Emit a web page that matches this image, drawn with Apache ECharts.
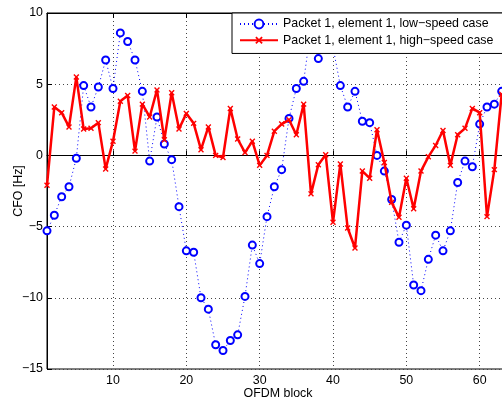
<!DOCTYPE html>
<html>
<head>
<meta charset="utf-8">
<script src="https://cdn.jsdelivr.net/npm/echarts@6/dist/echarts.min.js"></script>
<style>
html,body{margin:0;padding:0;background:#fff;}
#chart{width:502px;height:399px;}
</style>
</head>
<body>
<div id="chart"></div>
<script>
var blocks = [1,2,3,4,5,6,7,8,9,10,11,12,13,14,15,16,17,18,19,20,21,22,23,24,25,26,27,28,29,30,31,32,33,34,35,36,37,38,39,40,41,42,43,44,45,46,47,48,49,50,51,52,53,54,55,56,57,58,59,60,61,62,63];
var lowSpeed = [-5.3,-4.2,-2.9,-2.2,-0.2,4.9,3.4,4.8,6.7,4.7,8.6,8.0,6.7,4.5,-0.4,2.7,0.8,-0.3,-3.6,-6.7,-6.8,-10.0,-10.8,-13.3,-13.7,-13.0,-12.6,-9.9,-6.3,-7.6,-4.3,-2.2,-1.0,2.6,4.7,5.2,9.0,6.8,8.5,7.6,4.9,3.4,4.5,2.4,2.3,0.0,-1.1,-3.1,-6.1,-4.9,-9.1,-9.5,-7.3,-5.6,-6.7,-5.3,-1.9,-0.4,-0.8,2.2,3.4,3.6,4.5];
var highSpeed = [-2.1,3.4,3.0,2.0,5.5,1.85,1.9,2.3,-0.95,1.0,3.8,4.2,0.3,3.6,2.7,4.6,1.1,4.4,1.85,2.95,2.25,0.4,2.0,0.0,-0.15,3.3,1.15,0.2,1.0,-0.7,0.0,1.7,2.2,2.5,1.45,3.6,-2.7,-0.65,0.05,-4.7,-0.6,-5.1,-6.5,-1.1,-1.6,1.8,-0.5,-3.3,-4.35,-1.6,-3.75,-1.1,-0.1,0.7,1.75,-0.7,1.45,1.9,3.3,3.0,-4.3,-1.0,4.3];
var xTicks = [10,20,30,40,50,60];
var yTicks = [-15,-10,-5,0,5,10];
var seriesNames = ['Packet 1, element 1, low\u2212speed case','Packet 1, element 1, high\u2212speed case'];

var FONT = '"Liberation Sans", Arial, Helvetica, sans-serif';
function pairs(ys){ return blocks.map(function(x,i){ return [x, ys[i]]; }); }
function fmt(v){ return v < 0 ? '\u2212' + Math.abs(v) : String(v); }
var xMark = 'path://M4,0L6,0L6,4L10,4L10,6L6,6L6,10L4,10L4,6L0,6L0,4L4,4Z';

var chart = echarts.init(document.getElementById('chart'), null, {renderer:'canvas'});
chart.setOption({
  animation: false,
  backgroundColor: '#fff',
  grid: {left: 47, top: 13, right: -7, bottom: 30, containLabel: false, outerBoundsMode: 'none',
         show: true, borderColor: '#000', borderWidth: 1, backgroundColor: 'transparent'},
  legend: {
    data: seriesNames,
    orient: 'vertical',
    left: 232, top: 13,
    itemWidth: 38, itemHeight: 11, itemGap: 4,
    padding: [5, 30, 7, 7],
    borderColor: '#000', borderWidth: 1, backgroundColor: '#fff',
    textStyle: {fontFamily: FONT, fontSize: 12.4, color: '#000'},
    z: 10
  },
  xAxis: [{
    type: 'value', min: 1, max: 64, position: 'bottom',
    name: 'OFDM block', nameLocation: 'middle', nameGap: 19, nameMoveOverlap: false,
    nameTextStyle: {fontFamily: FONT, fontSize: 12.4, color: '#000'},
    axisLine: {show: true, lineStyle: {color: '#000', width: 1}},
    axisTick: {show: true, inside: true, length: 5, customValues: xTicks, lineStyle: {color: '#000'}},
    axisLabel: {show: true, customValues: xTicks, margin: 6, fontFamily: FONT, fontSize: 12.4, color: '#000', formatter: fmt},
    splitLine: {show: true, lineStyle: {color: '#444', width: 1, type: [1, 3]}}
  }, {
    type: 'value', min: 1, max: 64, position: 'top',
    axisLine: {show: true, lineStyle: {color: '#000', width: 1}},
    axisTick: {show: true, inside: true, length: 5, customValues: xTicks, lineStyle: {color: '#000'}},
    axisLabel: {show: false},
    splitLine: {show: false}
  }],
  yAxis: [{
    type: 'value', min: -15, max: 10, interval: 5,
    name: 'CFO [Hz]', nameLocation: 'middle', nameGap: 22, nameMoveOverlap: false,
    nameTextStyle: {fontFamily: FONT, fontSize: 12.4, color: '#000'},
    axisLine: {show: true, lineStyle: {color: '#000', width: 1}},
    axisTick: {show: true, inside: true, length: 5, lineStyle: {color: '#000'}},
    axisLabel: {show: true, margin: 4, fontFamily: FONT, fontSize: 12.4, color: '#000', formatter: fmt},
    splitLine: {show: true, lineStyle: {color: '#444', width: 1, type: [1, 3]}}
  }],
  series: [{
    name: seriesNames[0], type: 'line', xAxisIndex: 0, yAxisIndex: 0,
    data: pairs(lowSpeed),
    symbol: 'circle', symbolSize: 7, showAllSymbol: true,
    itemStyle: {color: '#fff', borderColor: '#0000ff', borderWidth: 2},
    lineStyle: {color: '#0000ff', width: 1, type: [1, 3]},
    z: 2
  }, {
    name: seriesNames[1], type: 'line', xAxisIndex: 0, yAxisIndex: 0,
    data: pairs(highSpeed),
    symbol: xMark, symbolSize: 7, symbolRotate: 45, showAllSymbol: true,
    itemStyle: {color: '#ff0000'},
    lineStyle: {color: '#ff0000', width: 2.5},
    z: 3
  }]
});
</script>
</body>
</html>
